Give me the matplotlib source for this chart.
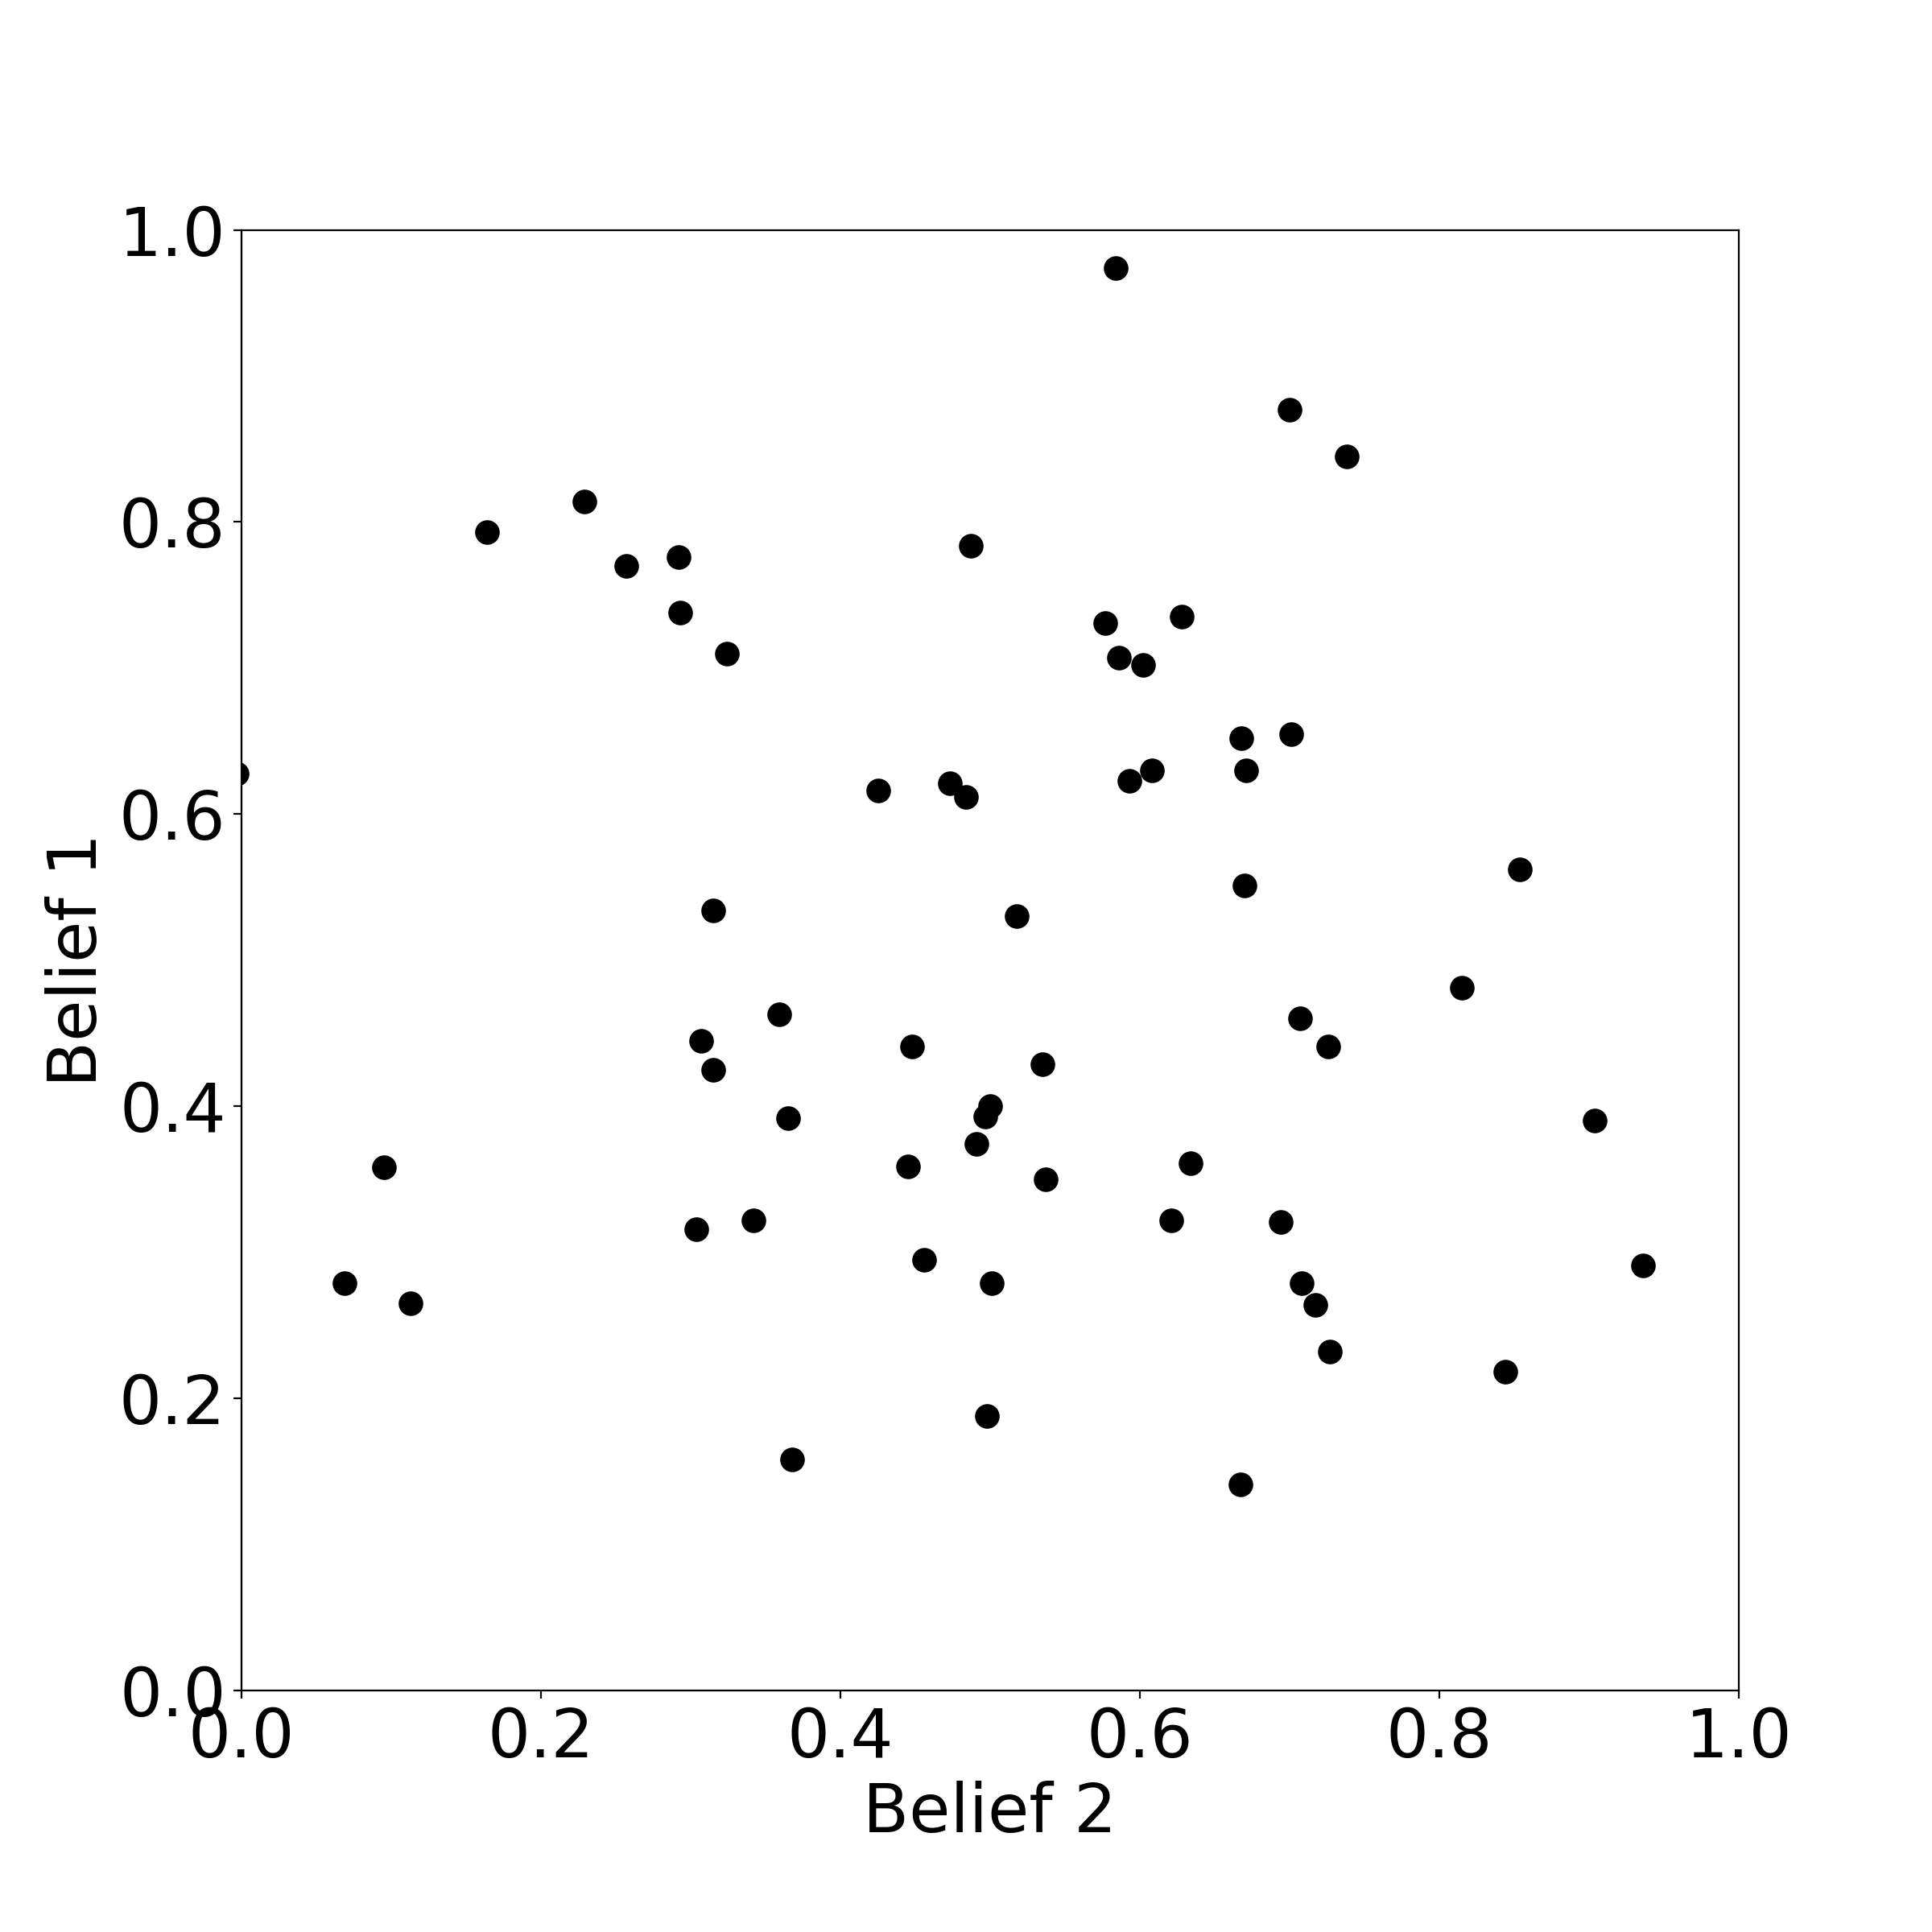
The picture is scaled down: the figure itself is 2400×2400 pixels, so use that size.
import matplotlib
matplotlib.use("Agg")
import matplotlib.pyplot as plt

belief2 = [0.584, 0.700, 0.738, 0.229, 0.164, 0.257, 0.292, 0.487, 0.293, 0.324,
           0.577, 0.628, 0.586, 0.602, 0.668, 0.701, 0.671, 0.608, 0.593, -0.003,
           0.425, 0.473, 0.484, 0.670, 0.854, 0.315, 0.518, 0.815, 0.359, 0.707,
           0.307, 0.448, 0.726, 0.315, 0.535, 0.365, 0.500, 0.497, 0.904, 0.491,
           0.095, 0.445, 0.634, 0.537, 0.304, 0.342, 0.621, 0.694, 0.456, 0.936,
           0.069, 0.113, 0.501, 0.708, 0.717, 0.727, 0.844, 0.498, 0.368, 0.667]
belief1 = [0.974, 0.877, 0.845, 0.814, 0.793, 0.770, 0.776, 0.784, 0.738, 0.710,
           0.731, 0.735, 0.707, 0.702, 0.652, 0.655, 0.630, 0.630, 0.623, 0.628,
           0.616, 0.621, 0.612, 0.551, 0.562, 0.534, 0.530, 0.481, 0.463, 0.460,
           0.445, 0.441, 0.441, 0.425, 0.429, 0.392, 0.400, 0.393, 0.390, 0.374,
           0.358, 0.359, 0.361, 0.350, 0.316, 0.322, 0.322, 0.321, 0.295, 0.291,
           0.279, 0.265, 0.279, 0.279, 0.264, 0.232, 0.218, 0.188, 0.158, 0.141]

fig = plt.figure(figsize=(12, 12), dpi=200)
ax = fig.add_axes([0.125, 0.125, 0.775, 0.756])
ax.scatter(belief2, belief1, s=100, color="black")
ax.set_xlim(0, 1)
ax.set_ylim(0, 1)
ax.set_xlabel("Belief 2", fontsize=30)
ax.set_ylabel("Belief 1", fontsize=30)
ax.tick_params(labelsize=30)
fig.savefig("out.png", dpi=200)
